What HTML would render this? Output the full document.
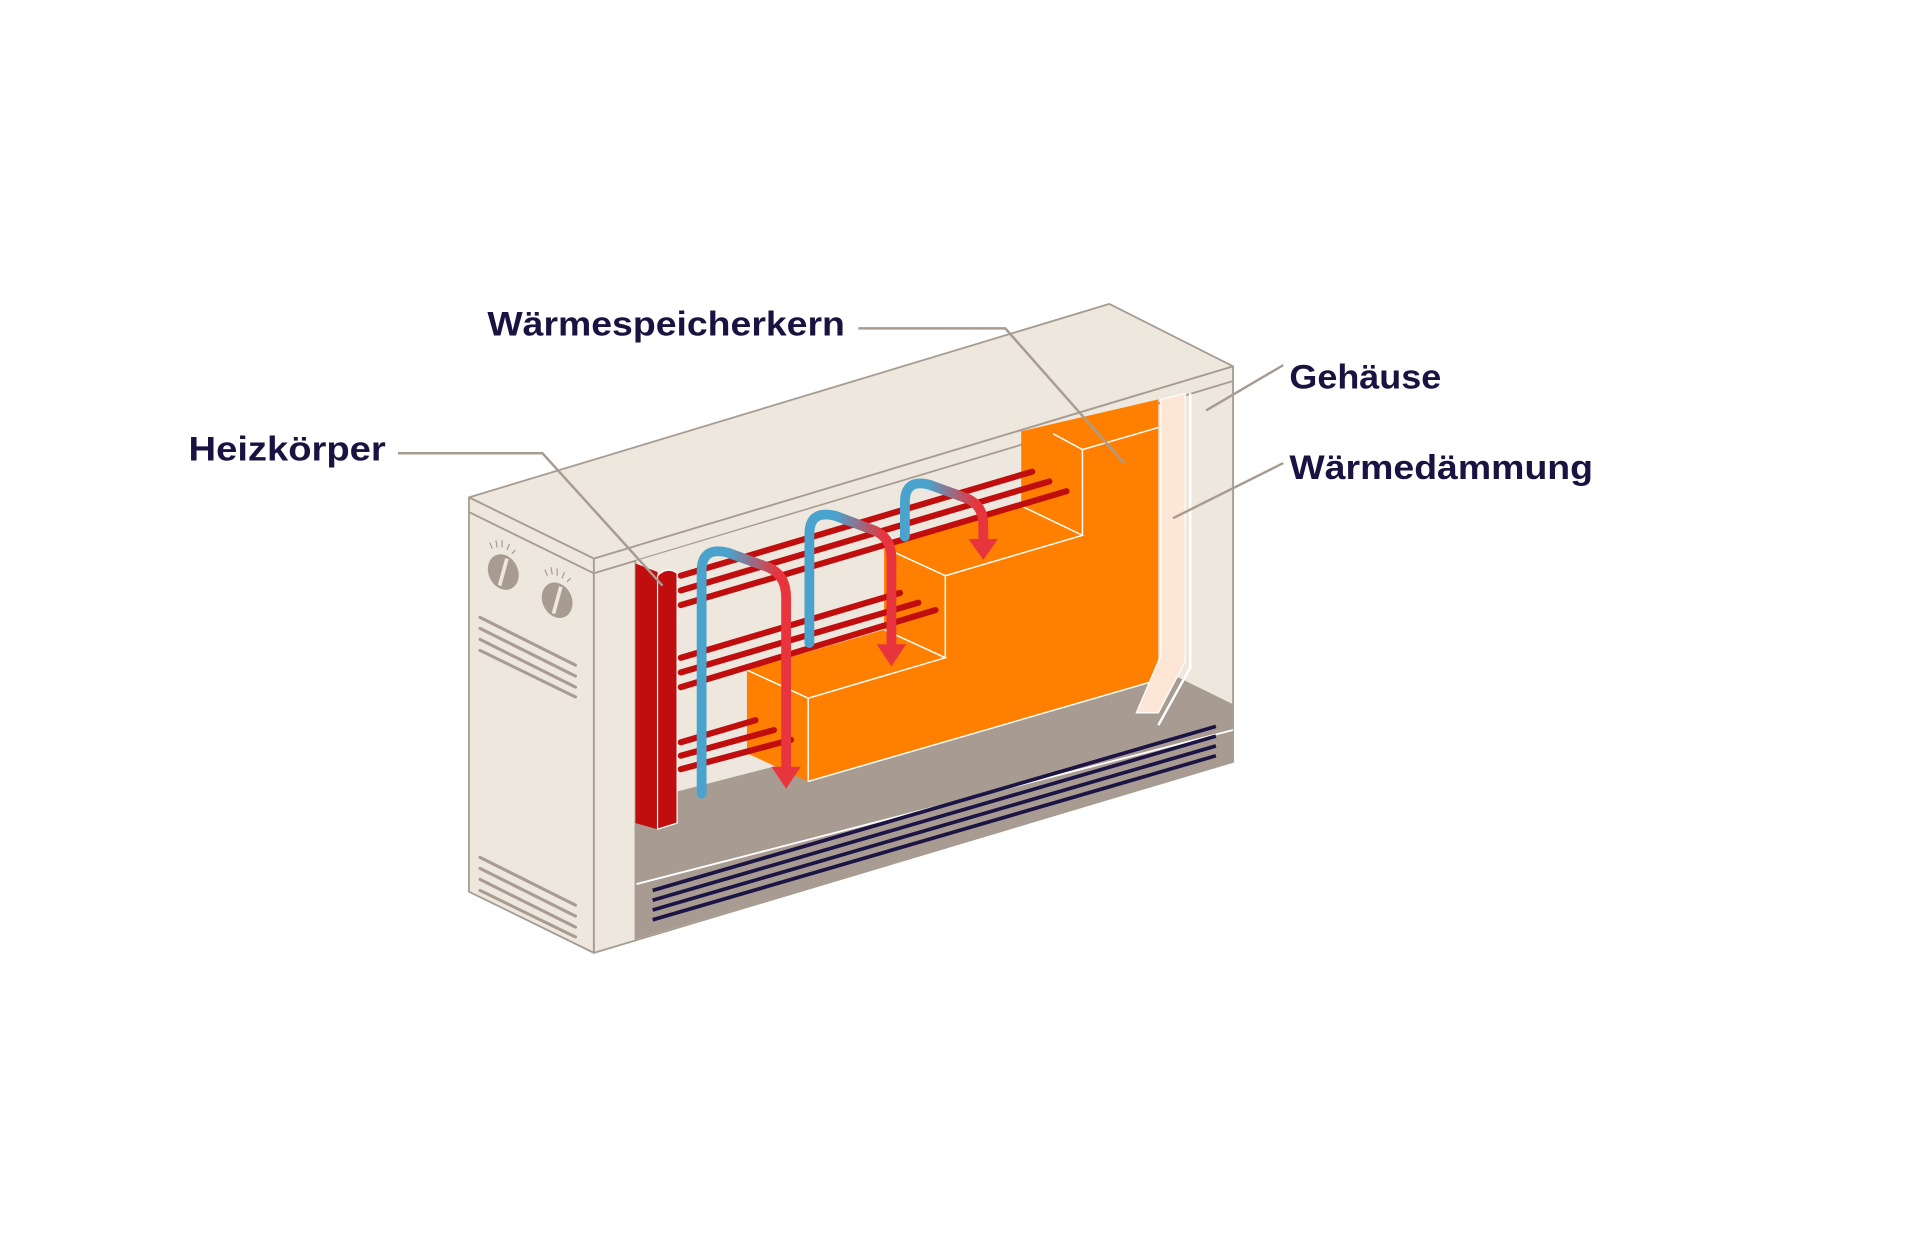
<!DOCTYPE html>
<html><head><meta charset="utf-8"><style>html,body{margin:0;padding:0;background:#fff}svg{display:block}</style></head>
<body>
<svg width="1920" height="1258" viewBox="0 0 1568 1027" xmlns="http://www.w3.org/2000/svg">
<defs>
<linearGradient id="g1" gradientUnits="userSpaceOnUse" x1="595" y1="0" x2="635" y2="0"><stop offset="0" stop-color="#4aa3cc"/><stop offset="1" stop-color="#e8343c"/></linearGradient>
<linearGradient id="g2" gradientUnits="userSpaceOnUse" x1="683" y1="0" x2="722" y2="0"><stop offset="0" stop-color="#4aa3cc"/><stop offset="1" stop-color="#e8343c"/></linearGradient>
<linearGradient id="g3" gradientUnits="userSpaceOnUse" x1="758" y1="0" x2="797" y2="0"><stop offset="0" stop-color="#4aa3cc"/><stop offset="1" stop-color="#e8343c"/></linearGradient>
</defs>
<rect width="1568" height="1027" fill="#fff"/>
<g stroke="#a89c92" stroke-width="1.5" fill="#ede7de" stroke-linejoin="round">
<polygon points="383,406 906,248 1007,299 485,456"/>
<polygon points="383,406 485,456 485,778 383,728"/>
<polygon points="485,456 1007,299 1007,622 485,778"/>
<polyline fill="none" points="383,418 485,468 1007,311"/>
</g>
<!-- cutout interior -->
<polygon points="519,458 975,322 975,580 519,767" fill="#ede7de"/>
<polygon points="519,655 946,545 1007,575 1007,622 519,767" fill="#a89c92"/>
<line x1="519" y1="722" x2="1007" y2="596" stroke="#fff" stroke-width="1.5"/>
<g stroke="#1c1445" stroke-width="3">
<line x1="533" y1="727" x2="993" y2="593"/><line x1="533" y1="735" x2="993" y2="601"/><line x1="533" y1="743" x2="993" y2="609"/><line x1="533" y1="751" x2="993" y2="617"/>
</g>
<line x1="519" y1="458" x2="519" y2="767" stroke="#a89c92" stroke-width="1.5"/>
<!-- orange core -->
<polygon points="610,547 722,514 722,447 834,413 834,352 946,326 946,555 660,638 610,615" fill="#ff7f00"/>
<g stroke="#fff" stroke-width="1.2" fill="none">
<polyline points="610,547 660,570 772,537 722,514"/><line x1="660" y1="570" x2="660" y2="638"/>
<polyline points="772,537 772,470 722,447"/><polyline points="772,470 884,437 834,413"/>
<polyline points="884,437 884,367 860,354"/><line x1="884" y1="367" x2="946" y2="349"/>
<line x1="660" y1="638" x2="946" y2="555"/>
</g>
<!-- insulation -->
<polygon points="948,326 968,321 968,540 946,582 928,582 948,535" fill="#fde6d6" stroke="#fff" stroke-width="1"/>
<polyline points="972,321 972,545 946,592" fill="none" stroke="#fff" stroke-width="2"/>
<!-- heater -->
<polygon points="519,460 537,467 537,677 519,672" fill="#c00d0d"/>
<path d="M537,470 Q545,462 553,468 L553,672 L537,677 Z" fill="#c00d0d" stroke="#fff" stroke-width="1"/>
<g stroke="#c00d0d" stroke-width="5" stroke-linecap="round">
<line x1="556" y1="470" x2="843" y2="385"/><line x1="556" y1="482" x2="857" y2="393"/><line x1="556" y1="494" x2="871" y2="401"/>
<line x1="556" y1="537" x2="735" y2="484"/><line x1="556" y1="549" x2="750" y2="492"/><line x1="556" y1="561" x2="764" y2="498"/>
<line x1="556" y1="606" x2="617" y2="588"/><line x1="556" y1="617" x2="632" y2="596"/><line x1="556" y1="628" x2="646" y2="604"/>
</g>
<!-- airflow -->
<g fill="none" stroke-width="8" stroke-linecap="round">
<path d="M573,648 L573,466 Q573,446 594,451 L627,463 Q642,469 642,488 L642,628" stroke="url(#g1)"/>
<path d="M661,525 L661,436 Q661,416 682,421 L714,433 Q728,439 728,456 L728,528" stroke="url(#g2)"/>
<path d="M739,438 L739,410 Q739,390 760,396 L790,407 Q803,413 803,428 L803,442" stroke="url(#g3)"/>
</g>
<g fill="#e8343c">
<polygon points="630,626 654,626 642,644"/><polygon points="716,526 740,526 728,544"/><polygon points="791,440 815,440 803,457"/>
</g>
<!-- left face details -->
<g fill="#a89c92"><ellipse cx="411" cy="467" rx="12" ry="15" transform="rotate(-25 411 467)"/><ellipse cx="455" cy="490" rx="12" ry="15" transform="rotate(-25 455 490)"/></g>
<g stroke="#ede7de" stroke-width="3"><line x1="408" y1="478" x2="414" y2="456"/><line x1="452" y1="501" x2="458" y2="479"/></g>
<g stroke="#a89c92" stroke-width="1"><line x1="400" y1="443" x2="402" y2="448"/><line x1="405" y1="441" x2="406" y2="447"/><line x1="410" y1="441" x2="410" y2="447"/><line x1="416" y1="444" x2="414" y2="449"/><line x1="421" y1="449" x2="418" y2="452"/>
<line x1="445" y1="465" x2="447" y2="470"/><line x1="450" y1="463" x2="451" y2="469"/><line x1="455" y1="464" x2="455" y2="470"/><line x1="461" y1="467" x2="459" y2="472"/><line x1="466" y1="472" x2="463" y2="475"/></g>
<g stroke="#a89c92" stroke-width="2.5" stroke-linecap="round">
<line x1="392" y1="504" x2="470" y2="543"/><line x1="392" y1="513" x2="470" y2="552"/><line x1="392" y1="522" x2="470" y2="561"/><line x1="392" y1="531" x2="470" y2="569"/>
<line x1="392" y1="700" x2="470" y2="739"/><line x1="392" y1="709" x2="470" y2="748"/><line x1="392" y1="718" x2="470" y2="757"/><line x1="392" y1="727" x2="470" y2="765"/>
</g>
<!-- leaders -->
<g stroke="#a89c92" stroke-width="2" fill="none">
<polyline points="701,268 821,268 918,378"/><polyline points="325,370 443,370 541,478"/>
<line x1="1048" y1="298" x2="985" y2="335"/><line x1="1048" y1="378" x2="958" y2="423"/>
</g>
<g font-family="Liberation Sans, sans-serif" font-weight="bold" font-size="28" fill="#1a1240">
<text x="398" y="274" textLength="292" lengthAdjust="spacingAndGlyphs">Wärmespeicherkern</text>
<text x="154" y="376" textLength="161" lengthAdjust="spacingAndGlyphs">Heizkörper</text>
<text x="1053" y="317" textLength="124" lengthAdjust="spacingAndGlyphs">Gehäuse</text>
<text x="1053" y="391" textLength="248" lengthAdjust="spacingAndGlyphs">Wärmedämmung</text>
</g>
</svg>
</body></html>
